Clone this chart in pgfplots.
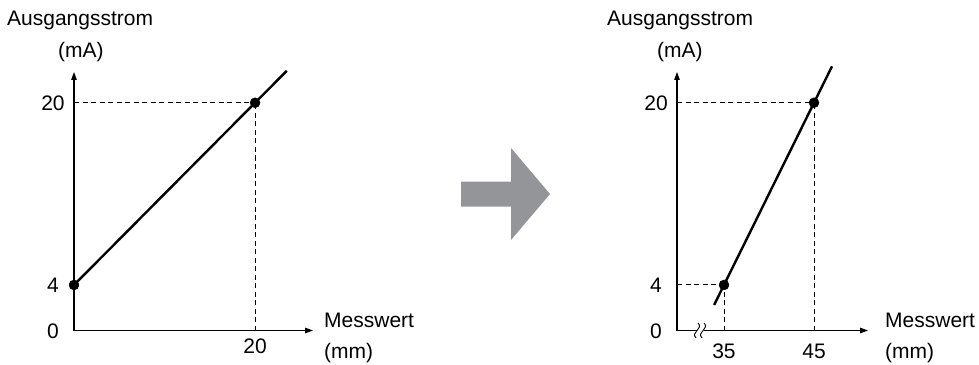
\documentclass[border=0pt]{standalone}
\usepackage{fontspec}
\setmainfont{Liberation Sans}
\usepackage{pgfplots}
\pgfplotsset{compat=1.18}
\usetikzlibrary{arrows.meta}
\definecolor{arrowgray}{RGB}{147,149,152}
\newcommand{\bigfont}{\fontsize{21bp}{25bp}\selectfont}
\begin{document}
\bigfont
\begin{tikzpicture}[x=1bp,y=1bp]
\path[use as bounding box] (0,0) rectangle (979,364);
\pgfplotsset{
  panel/.style={
    scale only axis, clip=false, enlargelimits=false,
    axis lines=left,
    axis line style={line width=1.1bp, -{Triangle[length=8bp,width=5.5bp]}},
    major tick length=0pt,
    ymin=0, ymax=22.7,
    height=258.5bp,
    ytick={0,4,20},
    /pgf/number format/assume math mode=true,
    tick label style={font=\bigfont, inner sep=0pt},
    yticklabel style={anchor=base, xshift=-21bp, yshift=-7.5bp},
    anchor=south west,
  },
  mainline/.style={line width=2.4bp, black, no marks},
  dots/.style={only marks, mark=*, mark size=5bp, black},
  guide/.style={line width=1bp, black, dash pattern=on 5bp off 3.5bp, no marks},
}
% left panel
\begin{axis}[panel, at={(74bp,33.5bp)}, width=239bp,
  xmin=0, xmax=26.4, xtick={20},
  xticklabel style={anchor=base, yshift=-22.5bp}]
\addplot[guide] coordinates {(0,20) (20,20)};
\addplot[guide] coordinates {(20,0) (20,20)};
\addplot[mainline] coordinates {(0,4) (23.5,22.8)};
\addplot[dots] coordinates {(0,4) (20,20)};
\end{axis}
% right panel
\begin{axis}[panel, at={(677bp,33.5bp)}, width=191bp,
  xmin=29.78, xmax=51, xtick={35,45},
  xticklabel style={anchor=base, yshift=-27.5bp}]
\addplot[guide] coordinates {(29.78,20) (45,20)};
\addplot[guide] coordinates {(45,0) (45,20)};
\addplot[guide] coordinates {(29.78,4) (35,4)};
\addplot[guide] coordinates {(35,0) (35,4)};
\addplot[mainline] coordinates {(33.9,2.24) (47,23.2)};
\addplot[dots] coordinates {(35,4) (45,20)};
\path (axis cs:32.34,0) coordinate (brk);
\fill[white] ([xshift=-3.5bp,yshift=-2bp]brk) rectangle ([xshift=3.5bp,yshift=2bp]brk);
\draw[line width=0.9bp] ([xshift=-4bp,yshift=-7.5bp]brk) .. controls +(-6bp,6bp) and +(6bp,-6bp) .. ([xshift=-2bp,yshift=7.5bp]brk);
\draw[line width=0.9bp] ([xshift=2bp,yshift=-7.5bp]brk) .. controls +(-6bp,6bp) and +(6bp,-6bp) .. ([xshift=4bp,yshift=7.5bp]brk);
\end{axis}
% labels
\begin{scope}[every node/.style={inner sep=0pt, anchor=base west}]
\node at (7,339) {Ausgangsstrom};
\node at (58,307) {(mA)};
\node at (324,37) {Messwert};
\node at (324,6) {(mm)};
\node at (607,339) {Ausgangsstrom};
\node at (657,307) {(mA)};
\node at (885,37) {Messwert};
\node at (885,6) {(mm)};
\end{scope}
% big grey arrow
\fill[arrowgray] (461,157.5) -- (511,157.5) -- (511,124) -- (550,170) -- (511,216) -- (511,182.5) -- (461,182.5) -- cycle;
\end{tikzpicture}
\end{document}
